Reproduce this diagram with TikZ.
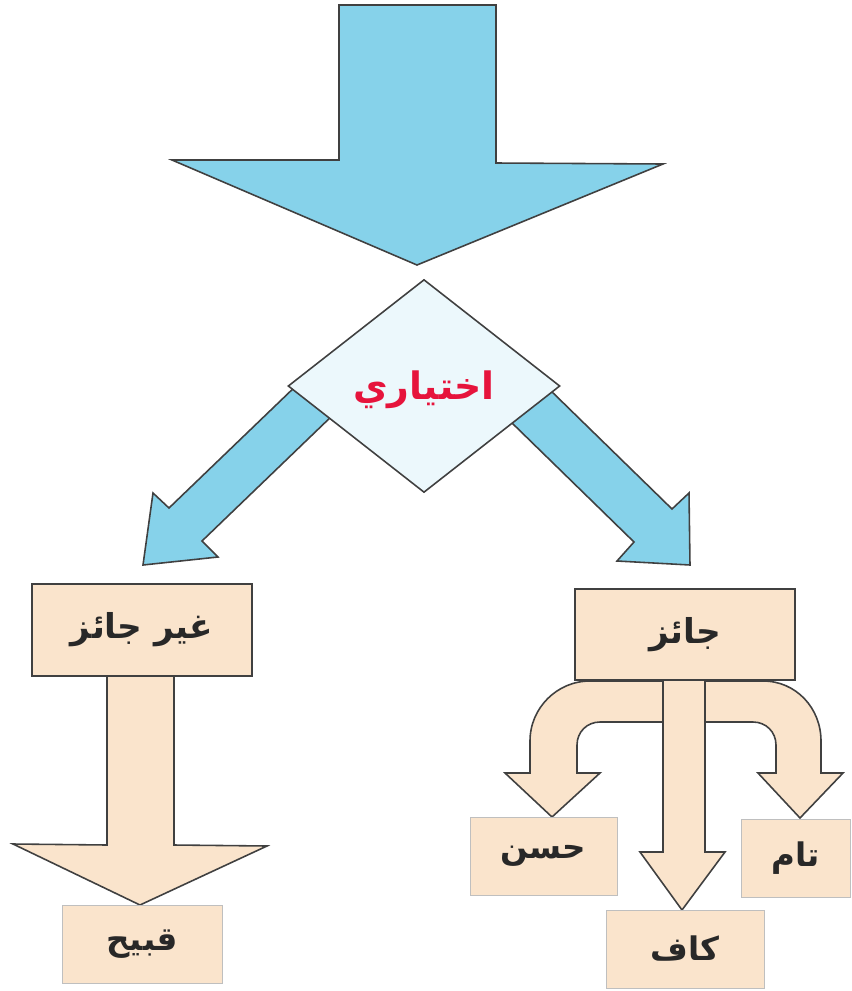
\documentclass[tikz,border=0pt]{standalone}
\usepackage{fontspec}
\newfontfamily\arabicfont[Script=Arabic]{DejaVu Sans}
\TeXXeTstate=1
\usetikzlibrary{shapes.geometric}

\definecolor{arrowblue}{RGB}{134,210,234}
\definecolor{diamondfill}{RGB}{236,248,252}
\definecolor{boxfill}{RGB}{250,228,204}
\definecolor{edgegray}{RGB}{64,64,64}
\definecolor{labelred}{RGB}{230,20,60}
\definecolor{textgray}{RGB}{40,40,40}

\newcommand{\artext}[1]{\beginR #1\endR}

\tikzset{
  bluearrow/.style={draw=edgegray, fill=arrowblue, line width=0.9pt, line join=miter},
  beigearrow/.style={draw=edgegray, fill=boxfill, line width=0.9pt, line join=miter},
  topbox/.style={draw=edgegray, fill=boxfill, line width=0.9pt, minimum width=4.4cm,
    minimum height=1.83cm, inner sep=0pt, text=textgray,
    font=\arabicfont\bfseries\fontsize{19.5}{22}\selectfont},
  leafbox/.style={draw=black!25, fill=boxfill, line width=0.5pt, minimum height=1.56cm,
    inner sep=0pt, text=textgray, font=\arabicfont\bfseries\fontsize{18.5}{22}\selectfont}
}

\begin{document}
\begin{tikzpicture}[x=0.02cm, y=-0.02cm]
  \useasboundingbox (0,0) rectangle (852,991);

  % Top arrow
  \draw[bluearrow] (339,5) -- (496,5) -- (496,163) -- (663,164) -- (417,265)
    -- (172,160) -- (339,160) -- cycle;

  % Arrows out of the diamond
  \draw[bluearrow] (300,382) -- (169,508) -- (153,493) -- (143,565) -- (218,557)
    -- (202,541) -- (335,413) -- cycle;
  \draw[bluearrow] (548,388) -- (672,509) -- (689,493) -- (690,565) -- (617,561)
    -- (634,542) -- (511,422) -- cycle;

  % Diamond
  \node[diamond, draw=edgegray, fill=diamondfill, line width=0.9pt, inner sep=0pt,
    minimum width=5.44cm, minimum height=4.26cm] (choice) at (424,386) {};
  \node[text=labelred, font=\arabicfont\bfseries\fontsize{21.5}{24}\selectfont]
    (choicetext) at (424,390) {\artext{اختياري}};

  % Left branch
  \draw[beigearrow] (107,676) -- (107,845) -- (13,844) -- (140,905) -- (267,846)
    -- (174,845) -- (174,676);
  \node[topbox] (ghayr) at (142,630) {\artext{غير جائز}};
  \node[leafbox, minimum width=3.2cm] (qabih) at (142,944) {\artext{قبيح}};

  % Right branch
  \draw[beigearrow] (663,681) -- (590,681) .. controls (557,681) and (530,708) .. (530,741)
    -- (530,773) -- (505,773) -- (552,817) -- (600,773) -- (577,773) -- (577,745)
    .. controls (577,732) and (587,722) .. (600,722) -- (663,722) -- cycle;
  \draw[beigearrow] (705,681) -- (763,681) .. controls (796,681) and (821,708) .. (821,741)
    -- (821,773) -- (843,773) -- (800,818) -- (758,773) -- (776,773) -- (776,745)
    .. controls (776,732) and (766,722) .. (753,722) -- (705,722) -- cycle;
  \draw[beigearrow] (663,680) -- (663,852) -- (640,852) -- (682,910) -- (725,852)
    -- (705,852) -- (705,680);
  \node[topbox] (jaiz) at (685,634.5) {\artext{جائز}};
  \node[leafbox, minimum width=2.94cm] (hasan) at (543.5,856) {\artext{حسن}};
  \node[leafbox, minimum width=3.16cm] (kaf) at (685,949) {\artext{كاف}};
  \node[leafbox, minimum width=2.18cm] (tam) at (795.5,858) {\artext{تام}};
\end{tikzpicture}
\end{document}
